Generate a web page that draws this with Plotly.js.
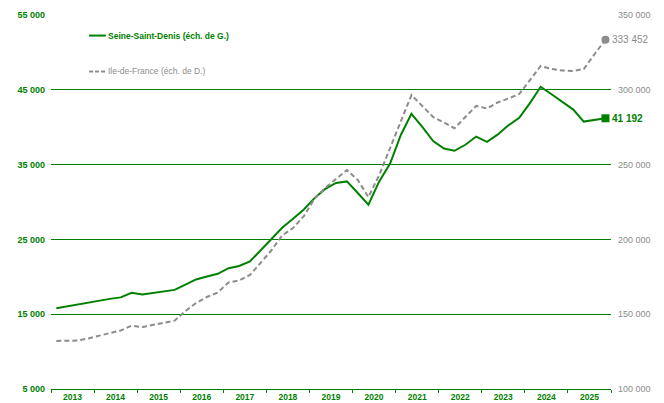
<!DOCTYPE html>
<html>
<head>
<meta charset="utf-8">
<script src="https://cdn.plot.ly/plotly-3.0.1.min.js"></script>
<style>
  html, body { margin: 0; padding: 0; background: #fff; }
  #chart { width: 664px; height: 403px; }
</style>
</head>
<body>
<div id="chart"></div>
<script>
  /* trimestres (milieu de trimestre), 2013 T1 -> 2025 T4 */
  var periods = [
    '2013-02-15', '2013-05-15', '2013-08-15', '2013-11-15',
    '2014-02-15', '2014-05-15', '2014-08-15', '2014-11-15',
    '2015-02-15', '2015-05-15', '2015-08-15', '2015-11-15',
    '2016-02-15', '2016-05-15', '2016-08-15', '2016-11-15',
    '2017-02-15', '2017-05-15', '2017-08-15', '2017-11-15',
    '2018-02-15', '2018-05-15', '2018-08-15', '2018-11-15',
    '2019-02-15', '2019-05-15', '2019-08-15', '2019-11-15',
    '2020-02-15', '2020-05-15', '2020-08-15', '2020-11-15',
    '2021-02-15', '2021-05-15', '2021-08-15', '2021-11-15',
    '2022-02-15', '2022-05-15', '2022-08-15', '2022-11-15',
    '2023-02-15', '2023-05-15', '2023-08-15', '2023-11-15',
    '2024-02-15', '2024-05-15', '2024-08-15', '2024-11-15',
    '2025-02-15', '2025-05-15', '2025-08-15', '2025-11-15'
  ];

  var seineSaintDenis = [
    15800, 16050, 16250, 16600, 16850, 17050, 17250, 17850,
    17650, 17850, 18050, 18250, 18950, 19650, 20050, 20400,
    21150, 21450, 22050, 23550, 25000, 26550, 27750, 29000,
    30550, 31750, 32550, 32750, 31200, 29650, 32750, 35150,
    39000, 41800, 40050, 38150, 37150, 36850, 37650, 38750,
    38050, 39000, 40250, 41250, 43250, 45400, 44400, 43400,
    42350, 40750, 40950, 41192
  ];

  var ileDeFrance = [
    132100, 132100, 132400, 133800, 135400, 137400, 139100, 142300,
    141400, 142800, 144100, 145700, 152100, 157500, 161500, 164500,
    171300, 172500, 176200, 184200, 192900, 202600, 207600, 215600,
    227500, 234400, 240400, 246400, 239700, 228300, 243000, 260800,
    279100, 296500, 289200, 281800, 278100, 274300, 281800, 289200,
    287600, 291500, 294200, 297200, 306600, 315900, 313900, 312900,
    312600, 313900, 323900, 333452
  ];

  var names = ['Seine-Saint-Denis (éch. de G.)', 'Ile-de-France (éch. de D.)'];

  var GREEN = '#008000';
  var GREY = '#8c8c8c';
  var FONT = 'Liberation Sans, Arial, sans-serif';

  function fmtNum(v) { return String(v).replace(/\B(?=(\d{3})+(?!\d))/g, ' '); }

  var n = periods.length;
  var last = periods[n - 1];

  var traces = [
    { x: periods, y: ileDeFrance, yaxis: 'y2', mode: 'lines',
      line: { color: GREY, width: 2, dash: '5px,3px' }, hoverinfo: 'skip' },
    { x: [last], y: [ileDeFrance[n - 1]], yaxis: 'y2', mode: 'markers',
      marker: { color: GREY, size: 8, symbol: 'circle' }, hoverinfo: 'skip' },
    { x: periods, y: seineSaintDenis, mode: 'lines',
      line: { color: GREEN, width: 2 }, hoverinfo: 'skip' },
    { x: [last], y: [seineSaintDenis[n - 1]], mode: 'markers',
      marker: { color: GREEN, size: 8, symbol: 'square' }, hoverinfo: 'skip' }
  ];

  var layout = {
    width: 664, height: 403,
    margin: { l: 51, r: 53, t: 15, b: 14 },
    paper_bgcolor: '#fff', plot_bgcolor: '#fff',
    showlegend: false,
    separators: ', ',
    font: { family: FONT, size: 9 },
    xaxis: {
      type: 'date', range: ['2013-01-01', '2026-01-01'],
      dtick: 'M12', tick0: '2013-01-01', tickformat: '%Y', ticklabelmode: 'period',
      showgrid: false, zeroline: false,
      showline: true, linecolor: GREEN, linewidth: 1,
      ticks: 'outside', ticklen: 3, tickcolor: GREEN, ticklabelstandoff: -3,
      tickfont: { color: GREEN, size: 8.5, family: FONT, weight: 'bold' },
      automargin: false, fixedrange: true
    },
    yaxis: {
      range: [5000, 55000], dtick: 10000, tick0: 5000, tickformat: ',d',
      showgrid: true, gridcolor: GREEN, gridwidth: 1, zeroline: false,
      showline: false, ticks: '', ticklabelstandoff: 5,
      tickfont: { color: GREEN, size: 9, family: FONT, weight: 'bold' },
      automargin: false, fixedrange: true
    },
    yaxis2: {
      overlaying: 'y', side: 'right',
      range: [100000, 350000], dtick: 50000, tick0: 100000, tickformat: ',d',
      showgrid: false, zeroline: false, showline: false, ticks: '', ticklabelstandoff: 6,
      tickfont: { color: GREY, size: 9, family: FONT },
      automargin: false, fixedrange: true
    },
    shapes: [
      { type: 'line', xref: 'paper', yref: 'paper', x0: 0.068, x1: 0.098, y0: 0.945, y1: 0.945,
        line: { color: GREEN, width: 2 } },
      { type: 'line', xref: 'paper', yref: 'paper', x0: 0.068, x1: 0.098, y0: 0.849, y1: 0.849,
        line: { color: GREY, width: 2, dash: '4px,2px' } }
    ],
    annotations: [
      { xref: 'paper', yref: 'paper', x: 0.099, y: 0.945, xanchor: 'left', yanchor: 'middle',
        text: '<b>' + names[0] + '</b>', showarrow: false,
        font: { color: GREEN, size: 8.5, family: FONT } },
      { xref: 'paper', yref: 'paper', x: 0.099, y: 0.849, xanchor: 'left', yanchor: 'middle',
        text: names[1], showarrow: false,
        font: { color: GREY, size: 8.5, family: FONT } },
      { x: last, y: ileDeFrance[n - 1], yref: 'y2', xanchor: 'left', yanchor: 'middle', xshift: 5,
        text: fmtNum(ileDeFrance[n - 1]), showarrow: false,
        font: { color: GREY, size: 10, family: FONT } },
      { x: last, y: seineSaintDenis[n - 1], yref: 'y', xanchor: 'left', yanchor: 'middle', xshift: 5,
        text: '<b>' + fmtNum(seineSaintDenis[n - 1]) + '</b>', showarrow: false,
        font: { color: GREEN, size: 10, family: FONT } }
    ]
  };

  Plotly.newPlot('chart', traces, layout, { displayModeBar: false, staticPlot: true });
</script>
</body>
</html>
